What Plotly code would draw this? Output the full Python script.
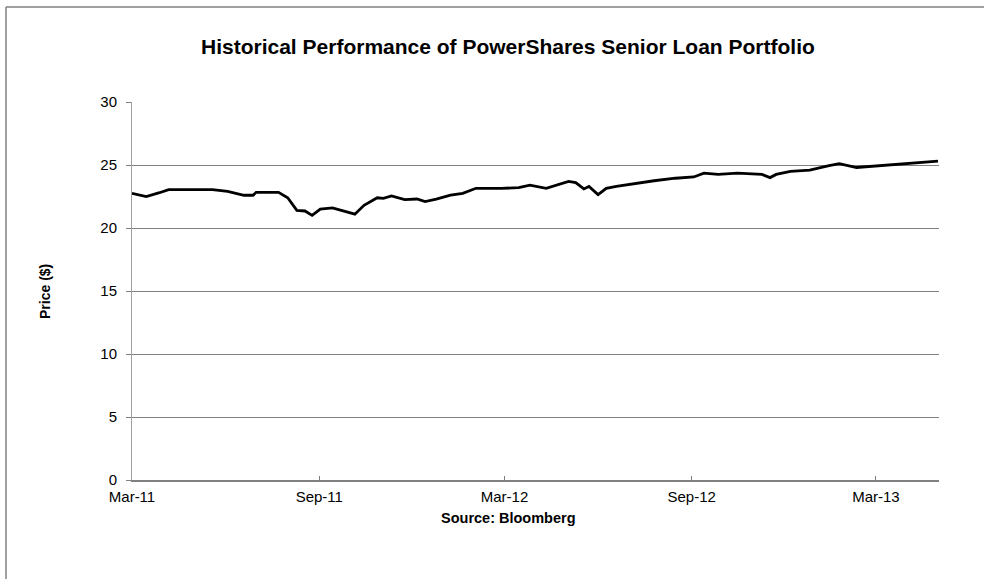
import plotly.graph_objects as go

dates = [
    "2011-03-01", "2011-03-15", "2011-03-28", "2011-04-06", "2011-05-19", "2011-06-03",
    "2011-06-19", "2011-06-28", "2011-07-01", "2011-07-23", "2011-08-01", "2011-08-10",
    "2011-08-18", "2011-08-25", "2011-09-02", "2011-09-14", "2011-10-06", "2011-10-15",
    "2011-10-28", "2011-11-03", "2011-11-11", "2011-11-24", "2011-12-06", "2011-12-14",
    "2011-12-25", "2012-01-08", "2012-01-20", "2012-02-02", "2012-02-27", "2012-03-15",
    "2012-03-26", "2012-04-11", "2012-05-03", "2012-05-10", "2012-05-18", "2012-05-23",
    "2012-06-01", "2012-06-09", "2012-06-19", "2012-07-09", "2012-07-26", "2012-08-16",
    "2012-09-03", "2012-09-13", "2012-09-27", "2012-10-16", "2012-11-09", "2012-11-17",
    "2012-11-23", "2012-12-07", "2012-12-26", "2013-01-14", "2013-01-24", "2013-02-10",
    "2013-02-26", "2013-03-19", "2013-04-11", "2013-05-01",
]
prices = [
    22.75, 22.5, 22.8, 23.05, 23.05, 22.9,
    22.6, 22.6, 22.83, 22.83, 22.4, 21.4,
    21.35, 21.0, 21.5, 21.6, 21.1, 21.8,
    22.4, 22.35, 22.55, 22.25, 22.3, 22.1,
    22.3, 22.6, 22.75, 23.15, 23.15, 23.2,
    23.4, 23.15, 23.7, 23.6, 23.1, 23.3,
    22.65, 23.15, 23.3, 23.55, 23.75, 23.95,
    24.05, 24.35, 24.25, 24.35, 24.25, 24.0,
    24.25, 24.5, 24.6, 24.95, 25.1, 24.8,
    24.9, 25.05, 25.2, 25.3,
]

tick_dates = ["2011-03-01", "2011-09-01", "2012-03-01", "2012-09-01", "2013-03-01"]
tick_labels = ["Mar-11", "Sep-11", "Mar-12", "Sep-12", "Mar-13"]
y_ticks = [0, 5, 10, 15, 20, 25, 30]

title_text = "Historical Performance of PowerShares Senior Loan Portfolio"
y_title = "Price ($)"
x_title = "Source: Bloomberg"

W, H = 984, 579
L, R, T, B = 132, 939, 102, 480


def px_x(px):
    return (px - L) / (R - L)


def px_y(py):
    return (B - py) / (B - T)


FONT = "Liberation Sans, Arial, sans-serif"

fig = go.Figure()
fig.add_trace(go.Scatter(
    x=dates, y=prices, mode="lines",
    line=dict(color="#000000", width=2.8),
    showlegend=False, hoverinfo="skip",
))

fig.update_layout(
    width=W, height=H,
    margin=dict(l=L, r=W - R, t=T, b=H - B),
    paper_bgcolor="white", plot_bgcolor="white",
    font=dict(family=FONT, color="#000000", size=15),
    xaxis=dict(
        type="date",
        range=["2011-03-01", "2013-05-02"],
        tickvals=tick_dates, ticktext=tick_labels,
        showgrid=False, zeroline=False,
        showline=True, linecolor="#808080", linewidth=2,
        ticks="inside", ticklen=4, tickcolor="#808080",
        ticklabelstandoff=2,
        tickfont=dict(size=15, family=FONT),
    ),
    yaxis=dict(
        range=[0, 30], tickvals=y_ticks,
        showgrid=True, gridcolor="#808080", gridwidth=1,
        zeroline=False,
        showline=True, linecolor="#a0a0a0", linewidth=1,
        ticks="outside", ticklen=5, tickcolor="#808080",
        ticklabelstandoff=6,
        tickfont=dict(size=15, family=FONT),
    ),
    annotations=[
        dict(text="<b>" + title_text + "</b>", x=px_x(508), y=px_y(46),
             xref="paper", yref="paper", showarrow=False,
             font=dict(size=21, family=FONT), xanchor="center", yanchor="middle"),
        dict(text="<b>" + y_title + "</b>", x=px_x(45), y=px_y(292),
             xref="paper", yref="paper", showarrow=False, textangle=-90,
             font=dict(size=14, family=FONT), xanchor="center", yanchor="middle"),
        dict(text="<b>" + x_title + "</b>", x=px_x(508), y=px_y(518),
             xref="paper", yref="paper", showarrow=False,
             font=dict(size=14.5, family=FONT), xanchor="center", yanchor="middle"),
    ],
    shapes=[
        dict(type="line", xref="paper", yref="paper",
             x0=px_x(6), x1=px_x(984), y0=px_y(7), y1=px_y(7),
             line=dict(color="#808080", width=1.5)),
        dict(type="line", xref="paper", yref="paper",
             x0=px_x(6), x1=px_x(6), y0=px_y(7), y1=px_y(579),
             line=dict(color="#808080", width=1.5)),
    ],
)

fig.write_html(
    "out.html",
    config={"displayModeBar": False, "staticPlot": True},
    post_script="document.body.style.margin='0';document.body.style.padding='0';",
)
